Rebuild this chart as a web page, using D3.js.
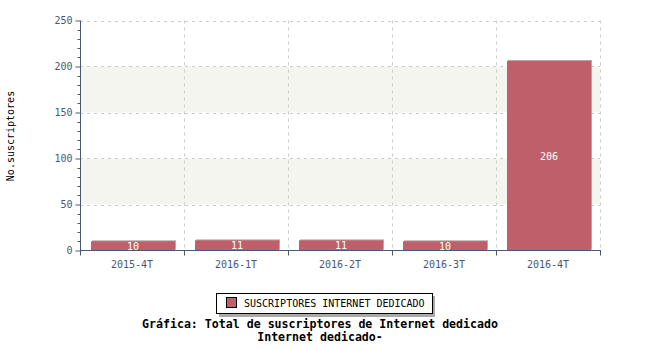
<!DOCTYPE html>
<html><head><meta charset="utf-8">
<script src="https://cdn.jsdelivr.net/npm/d3@7"></script>
<style>body{margin:0;background:#fff}svg{display:block}text{font-family:"DejaVu Sans Mono",monospace}</style>
</head><body><svg id="c" width="650" height="350"></svg>
<script>
const categories = ["2015-4T","2016-1T","2016-2T","2016-3T","2016-4T"];
const values = [10, 11, 11, 10, 206];
const yTicks = [0, 50, 100, 150, 200, 250];
const seriesName = "SUSCRIPTORES INTERNET DEDICADO";
const yLabel = "No.suscriptores";
const titleLines = ["Gráfica: Total de suscriptores de Internet dedicado", "Internet dedicado-"];

const svg = d3.select("#c");
const m = {l: 80, r: 600, t: 20.5, b: 250.5};
const x = d3.scaleBand().domain(categories).range([m.l, m.r]).paddingInner(0.2).paddingOuter(0.1);
const xb = d3.scaleBand().domain(categories).range([m.l, m.r]);
const y = d3.scaleLinear().domain([0, 250]).range([m.b, m.t]);
const axisCol = "#4a5878";
const barCol = "#bf5f6a";

// bands
for (let i = 0; i < yTicks.length - 1; i++) {
  if (i % 2 === 1) {
    svg.append("rect").attr("x", m.l).attr("y", y(yTicks[i+1])).attr("width", m.r - m.l)
      .attr("height", y(yTicks[i]) - y(yTicks[i+1])).attr("fill", "#f5f5f0");
  }
}
// grid
svg.append("g").selectAll("line").data(yTicks.slice(1)).join("line")
  .attr("x1", m.l).attr("x2", m.r).attr("y1", d => Math.round(y(d)) + 0.5).attr("y2", d => Math.round(y(d)) + 0.5)
  .attr("stroke", "#cccccc").attr("stroke-dasharray", "3,4");
svg.append("g").selectAll("line").data(categories).join("line")
  .attr("x1", d => xb(d) + xb.bandwidth() + 0.5).attr("x2", d => xb(d) + xb.bandwidth() + 0.5)
  .attr("y1", m.t).attr("y2", m.b)
  .attr("stroke", "#cccccc").attr("stroke-dasharray", "3,4");

// bars
const bw = 84;
const bx = d => xb(d) + 11;
const g = svg.append("g");
g.selectAll("rect.s").data(values).join("rect")
  .attr("x", (d, i) => bx(categories[i]) + 1).attr("y", d => y(d) - 1)
  .attr("width", bw).attr("height", d => y(0) - y(d)).attr("fill", "#b8a6aa");
g.selectAll("rect.b").data(values).join("rect")
  .attr("x", (d, i) => bx(categories[i])).attr("y", d => y(d))
  .attr("width", bw).attr("height", d => y(0) - y(d)).attr("fill", barCol);
g.selectAll("text").data(values).join("text")
  .attr("x", (d, i) => bx(categories[i]) + bw / 2).attr("y", d => (y(d) + y(0)) / 2 + 4)
  .attr("text-anchor", "middle").attr("fill", "#fff").attr("font-size", 10).text(d => d);

// y axis
const yAxis = d3.axisLeft(y).tickValues(yTicks).tickSize(5).tickPadding(3);
const ya = svg.append("g").attr("transform", `translate(${m.l + 0.5},0)`).call(yAxis);
ya.selectAll("line,path").attr("stroke", axisCol);
ya.select("path").attr("d", `M0,${m.t}V${m.b}`);
ya.selectAll("text").attr("fill", axisCol).attr("font-size", 10).attr("font-family", "DejaVu Sans Mono");
const minor = d3.range(0, 251, 10).filter(v => v % 50 !== 0);
svg.append("g").selectAll("line").data(minor).join("line")
  .attr("x1", m.l - 2.5).attr("x2", m.l).attr("y1", d => Math.round(y(d)) + 0.5).attr("y2", d => Math.round(y(d)) + 0.5)
  .attr("stroke", axisCol);

// x axis
svg.append("line").attr("x1", m.l).attr("x2", m.r + 1).attr("y1", m.b).attr("y2", m.b).attr("stroke", axisCol);
const bounds = [m.l].concat(categories.map(c => xb(c) + xb.bandwidth()));
svg.append("g").selectAll("line").data(bounds).join("line")
  .attr("x1", d => d + 0.5).attr("x2", d => d + 0.5).attr("y1", m.b).attr("y2", m.b + 5).attr("stroke", axisCol);
svg.append("g").selectAll("text").data(categories).join("text")
  .attr("x", d => xb(d) + xb.bandwidth() / 2).attr("y", m.b + 17)
  .attr("text-anchor", "middle").attr("fill", axisCol).attr("font-size", 10).text(d => d);

// y label
svg.append("text").attr("transform", "translate(14,136) rotate(-90)").attr("text-anchor", "middle")
  .attr("font-size", 10).attr("fill", "#000").text(yLabel);

// legend
svg.append("rect").attr("x", 219).attr("y", 296).attr("width", 216).attr("height", 21).attr("fill", "#aaa");
svg.append("rect").attr("x", 216.5).attr("y", 293.5).attr("width", 216).attr("height", 20).attr("fill", "#fff").attr("stroke", "#000");
svg.append("rect").attr("x", 226.5).attr("y", 297.5).attr("width", 10).attr("height", 10).attr("fill", barCol).attr("stroke", "#000");
svg.append("text").attr("x", 244).attr("y", 307).attr("font-size", 10).attr("fill", "#000").text(seriesName);

// title
svg.append("g").selectAll("text").data(titleLines).join("text")
  .attr("x", 320).attr("y", (d, i) => 328 + i * 13).attr("text-anchor", "middle")
  .attr("font-size", 11.6).attr("font-weight", "bold").attr("fill", "#000").text(d => d);
</script></body></html>
